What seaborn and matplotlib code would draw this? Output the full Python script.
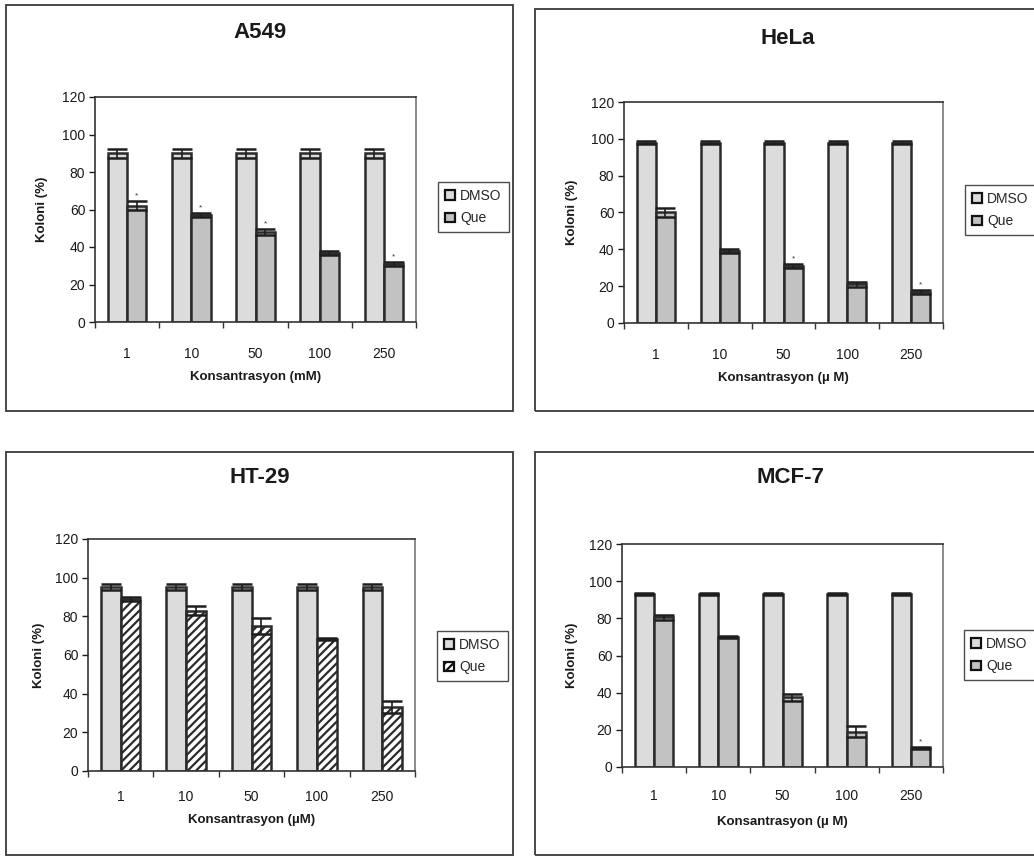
import numpy as np
import pandas as pd
import matplotlib
matplotlib.use("Agg")
import matplotlib.pyplot as plt
from matplotlib.patches import Rectangle, Patch
import seaborn as sns

# ---- data -------------------------------------------------------------
concentrations = ["1", "10", "50", "100", "250"]
groups = ["DMSO", "Que"]

a549_dmso = [90, 90, 90, 90, 90]
a549_dmso_err = [2.5, 2.5, 2.5, 2.5, 2.5]
a549_que = [62, 57, 48, 37, 31]
a549_que_err = [2.5, 1.0, 1.5, 1.0, 1.0]
a549_star = [True, True, True, False, True]

hela_dmso = [98, 98, 98, 98, 98]
hela_dmso_err = [1.0, 1.0, 1.0, 1.0, 1.0]
hela_que = [60, 39, 31, 21, 17]
hela_que_err = [2.5, 1.0, 1.0, 1.5, 1.0]
hela_star = [False, False, True, False, True]

ht29_dmso = [95, 95, 95, 95, 95]
ht29_dmso_err = [1.5, 1.5, 1.5, 1.5, 1.5]
ht29_que = [89, 83, 75, 68.5, 33]
ht29_que_err = [1.0, 2.5, 4.0, 0.5, 3.0]
ht29_star = [False, False, False, False, False]

mcf7_dmso = [93, 93, 93, 93, 93]
mcf7_dmso_err = [0.7, 0.7, 0.7, 0.7, 0.7]
mcf7_que = [80.5, 70, 37.5, 19, 10]
mcf7_que_err = [1.5, 0.7, 2.0, 3.0, 0.5]
mcf7_star = [False, False, False, False, True]

titles = ["A549", "HeLa", "HT-29", "MCF-7"]
xlabels = ["Konsantrasyon (mM)", "Konsantrasyon (µ M)",
           "Konsantrasyon (µM)", "Konsantrasyon (µ M)"]
ylabel = "Koloni (%)"
yticks = [0, 20, 40, 60, 80, 100, 120]

# ---- style ------------------------------------------------------------
sns.set_style("white")
plt.rcParams["font.family"] = ["Liberation Sans", "DejaVu Sans"]
plt.rcParams["hatch.linewidth"] = 1.6
plt.rcParams["hatch.color"] = "#222222"

W, H = 1034, 859
fig = plt.figure(figsize=(W / 100, H / 100), dpi=100)
fig.patch.set_facecolor("white")

EDGE = "#2b2b2b"
DMSO_C = "#dcdcdc"
QUE_C = "#c2c2c2"


def px_axes(left, top, right, bottom):
    return [left / W, 1 - bottom / H, (right - left) / W, (bottom - top) / H]


panels = [
    dict(data=(a549_dmso, a549_dmso_err, a549_que, a549_que_err, a549_star),
         box=(6, 5, 513, 411), ax=(95, 97, 416, 322), title=(260, 33),
         legend=(438, 182, 506, 236), xlab_y=377, ylab_x=42, tick_y=347,
         hatch=False),
    dict(data=(hela_dmso, hela_dmso_err, hela_que, hela_que_err, hela_star),
         box=(535, 9, 1040, 411), ax=(624, 102, 943, 323), title=(788, 38),
         legend=(965, 185, 1040, 237), xlab_y=378, ylab_x=572, tick_y=348,
         hatch=False),
    dict(data=(ht29_dmso, ht29_dmso_err, ht29_que, ht29_que_err, ht29_star),
         box=(6, 452, 513, 855), ax=(88, 539, 415, 771), title=(260, 478),
         legend=(437, 631, 506, 683), xlab_y=820, ylab_x=39, tick_y=792,
         hatch=True),
    dict(data=(mcf7_dmso, mcf7_dmso_err, mcf7_que, mcf7_que_err, mcf7_star),
         box=(535, 452, 1040, 855), ax=(622, 544, 943, 767), title=(790, 478),
         legend=(964, 630, 1040, 682), xlab_y=822, ylab_x=572, tick_y=790,
         hatch=False),
]

for i, p in enumerate(panels):
    dmso, dmso_err, que, que_err, star = p["data"]

    # frame around each panel
    bx0, by0, bx1, by1 = p["box"]
    fig.patches.append(Rectangle((bx0 / W, 1 - by1 / H), (bx1 - bx0) / W,
                                 (by1 - by0) / H, transform=fig.transFigure,
                                 fill=False, ec="#3a3a3a", lw=1.3))

    ax = fig.add_axes(px_axes(*p["ax"]))
    df = pd.DataFrame({
        "Konsantrasyon": concentrations * 2,
        "Grup": ["DMSO"] * len(concentrations) + ["Que"] * len(concentrations),
        "Koloni": list(dmso) + list(que),
    })
    que_color = "white" if p["hatch"] else QUE_C
    sns.barplot(data=df, x="Konsantrasyon", y="Koloni", hue="Grup",
                order=concentrations, hue_order=groups,
                palette={"DMSO": DMSO_C, "Que": que_color},
                width=0.6, edgecolor=EDGE, linewidth=1.8, saturation=1,
                errorbar=None, legend=False, ax=ax)

    if p["hatch"]:
        for bar in ax.containers[1]:
            bar.set_hatch("////")

    # error bars with caps spanning the bar width
    for cont, vals, errs in zip(ax.containers, (dmso, que), (dmso_err, que_err)):
        xs = [b.get_x() + b.get_width() / 2 for b in cont]
        bw = cont[0].get_width()
        bar_px = bw / len(concentrations) * (p["ax"][2] - p["ax"][0])
        ax.errorbar(xs, vals, yerr=errs, fmt="none", ecolor="#1e1e1e",
                    elinewidth=1.2, capsize=bar_px * 0.72 * 0.5,
                    capthick=1.8, zorder=5)

    # significance marks above the Que bars
    for b, v, e, s in zip(ax.containers[1], que, que_err, star):
        if s:
            ax.text(b.get_x() + b.get_width() / 2, v + e + 1.0, "*",
                    ha="center", va="bottom", fontsize=6, color="#333333")

    ax.set_ylim(0, 120)
    ax.set_yticks(yticks)
    ax.set_xlim(-0.5, len(concentrations) - 0.5)
    ax.set_xticks(range(len(concentrations)))
    ax.set_xticklabels(concentrations)
    ax.set_xticks(np.arange(-0.5, len(concentrations), 1.0), minor=True)
    ax.tick_params(axis="x", which="major", length=0, labelsize=10,
                   pad=p["tick_y"] - p["ax"][3] - 7, colors="#1a1a1a")
    ax.tick_params(axis="x", which="minor", length=4, width=1,
                   direction="out", color="#333333", bottom=True)
    ax.tick_params(axis="y", length=4, width=1, direction="out", left=True,
                   labelsize=10, pad=3, colors="#1a1a1a")
    for sp in ax.spines.values():
        sp.set_visible(True)
        sp.set_color("#333333")
        sp.set_linewidth(1.2)
    ax.spines["right"].set_color("#777777")

    ax.set_xlabel(xlabels[i], fontsize=9.5, fontweight="bold", color="#1a1a1a",
                  va="center")
    ax.set_ylabel(ylabel, fontsize=9.5, fontweight="bold", color="#1a1a1a",
                  va="center")
    ax_l, ax_t, ax_r, ax_b = p["ax"]
    ax.xaxis.set_label_coords(0.5, -(p["xlab_y"] - ax_b) / (ax_b - ax_t))
    ax.yaxis.set_label_coords((p["ylab_x"] - ax_l) / (ax_r - ax_l), 0.5)

    tx, ty = p["title"]
    fig.text(tx / W, 1 - ty / H, titles[i], ha="center", va="center",
             fontsize=16, fontweight="bold", color="#1a1a1a")

    # legend box
    lx0, ly0, lx1, ly1 = p["legend"]
    handles = [Patch(facecolor=DMSO_C, edgecolor="#111111", lw=1.6),
               Patch(facecolor=que_color, edgecolor="#111111", lw=1.6,
                     hatch="////" if p["hatch"] else None)]
    leg = ax.legend(handles, groups, loc="upper left",
                    bbox_to_anchor=(lx0 / W, 1 - ly0 / H),
                    bbox_transform=fig.transFigure, frameon=True,
                    fancybox=False, fontsize=10, handlelength=0.7,
                    handleheight=0.7, handletextpad=0.4, borderpad=0.5,
                    labelspacing=0.6, borderaxespad=0)
    leg.get_frame().set_edgecolor("#222222")
    leg.get_frame().set_linewidth(1.0)

fig.savefig("out.png", dpi=100, facecolor="white")
